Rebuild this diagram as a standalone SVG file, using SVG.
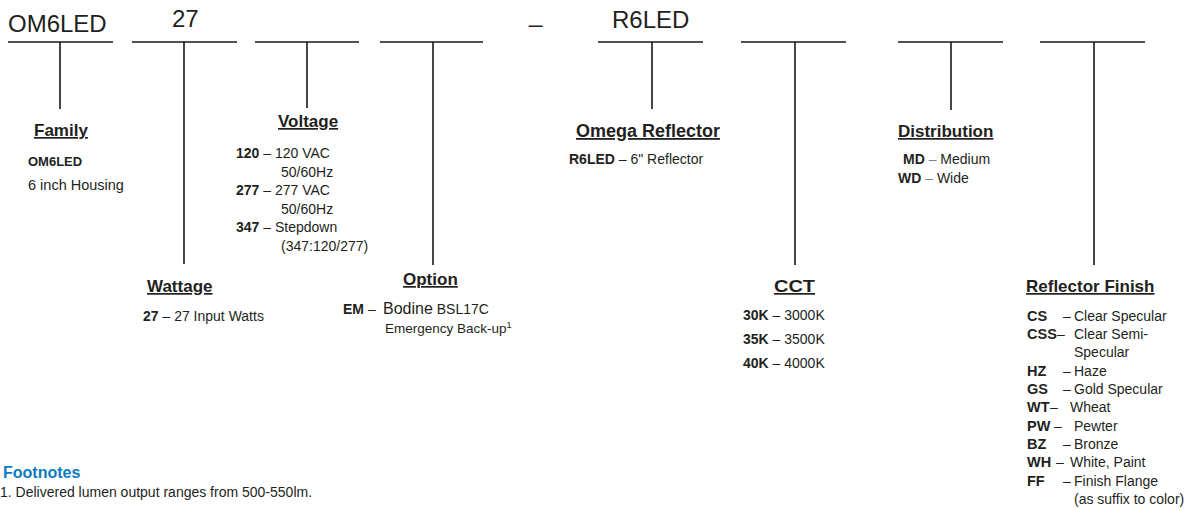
<svg xmlns="http://www.w3.org/2000/svg" width="1194" height="510" viewBox="0 0 1194 510">
<style>
text{font-family:"Liberation Sans",Arial,sans-serif;fill:#231f20;font-size:14px}
.code{font-size:24px}
.h{font-size:17px;font-weight:bold;text-decoration:underline}
.b{font-weight:bold}
.g{fill:#808080}
.ln{stroke:#1a1a1a;stroke-width:1.6;fill:none}
.fn{font-size:16px;font-weight:bold;fill:#0b7bc1}
.rf .b{font-size:14.5px}
</style>
<rect width="1194" height="510" fill="#fff"/>
<g id="connectors" class="ln">
<path d="M8 42H113M60 42V109"/>
<path d="M132 42H237M184 42V264"/>
<path d="M255 42H359M307 42V108"/>
<path d="M380 42H483M433 42V265"/>
<path d="M598 42H703M652 42V109"/>
<path d="M741 42H846M795 42V265"/>
<path d="M898 42H1003M951 42V110"/>
<path d="M1040 42H1145M1094 42V265"/>
</g>
<g id="code-family"><text class="code" x="8" y="32">OM6LED</text></g>
<g id="code-wattage"><text class="code" x="172" y="27">27</text></g>
<g id="code-separator"><text class="code" x="529" y="22">_</text></g>
<g id="code-reflector"><text class="code" x="612" y="28">R6LED</text></g>
<g id="family">
<text class="h" x="34" y="136">Family</text>
<text class="b" x="28" y="166" style="font-size:13px">OM6LED</text>
<text x="28" y="190" style="font-size:14.5px">6 inch Housing</text>
</g>
<g id="voltage">
<text class="h" x="278" y="127">Voltage</text>
<text x="236" y="158"><tspan class="b">120</tspan> – 120 VAC</text>
<text x="281" y="177">50/60Hz</text>
<text x="236" y="195"><tspan class="b">277</tspan> – 277 VAC</text>
<text x="281" y="214">50/60Hz</text>
<text x="236" y="232"><tspan class="b">347</tspan> – Stepdown</text>
<text x="281" y="251">(347:120/277)</text>
</g>
<g id="wattage">
<text class="h" x="147" y="292">Wattage</text>
<text x="143" y="321"><tspan class="b">27</tspan> – 27 Input Watts</text>
</g>
<g id="option">
<text class="h" x="403" y="285">Option</text>
<text x="343" y="314"><tspan class="b">EM</tspan> – <tspan x="383" style="font-size:16px">Bodine</tspan> BSL17C</text>
<text x="385" y="333" style="font-size:13.5px">Emergency Back-up<tspan style="font-size:9px" dy="-5">1</tspan></text>
</g>
<g id="omega-reflector">
<text class="h" x="576" y="137" style="font-size:18px">Omega Reflector</text>
<text x="569" y="164"><tspan class="b">R6LED</tspan> – 6" Reflector</text>
</g>
<g id="cct">
<text class="h" x="774" y="292" textLength="41" lengthAdjust="spacingAndGlyphs">CCT</text>
<text x="743" y="320"><tspan class="b">30K</tspan> – 3000K</text>
<text x="743" y="344"><tspan class="b">35K</tspan> – 3500K</text>
<text x="743" y="368"><tspan class="b">40K</tspan> – 4000K</text>
</g>
<g id="distribution">
<text class="h" x="898" y="137">Distribution</text>
<text x="903" y="164"><tspan class="b">MD</tspan> <tspan class="g">–</tspan> Medium</text>
<text x="898" y="183"><tspan class="b">WD</tspan> <tspan class="g">–</tspan> Wide</text>
</g>
<g id="reflector-finish" class="rf">
<text class="h" x="1026" y="292">Reflector Finish</text>
<text x="1027" y="321"><tspan class="b">CS</tspan><tspan x="1063">–</tspan><tspan x="1074">Clear Specular</tspan></text>
<text x="1027" y="339"><tspan class="b">CSS</tspan><tspan x="1057">–</tspan><tspan x="1074">Clear Semi-</tspan></text>
<text x="1074" y="357">Specular</text>
<text x="1027" y="376"><tspan class="b">HZ</tspan><tspan x="1063">–</tspan><tspan x="1074">Haze</tspan></text>
<text x="1027" y="394"><tspan class="b">GS</tspan><tspan x="1063">–</tspan><tspan x="1074">Gold Specular</tspan></text>
<text x="1027" y="412"><tspan class="b">WT</tspan><tspan x="1050">–</tspan><tspan x="1070">Wheat</tspan></text>
<text x="1027" y="431"><tspan class="b">PW</tspan><tspan x="1054">–</tspan><tspan x="1074">Pewter</tspan></text>
<text x="1027" y="449"><tspan class="b">BZ</tspan><tspan x="1063">–</tspan><tspan x="1074">Bronze</tspan></text>
<text x="1027" y="467"><tspan class="b">WH</tspan><tspan x="1056">–</tspan><tspan x="1070">White, Paint</tspan></text>
<text x="1027" y="486"><tspan class="b">FF</tspan><tspan x="1063">–</tspan><tspan x="1074">Finish Flange</tspan></text>
<text x="1074" y="504">(as suffix to color)</text>
</g>
<g id="footnotes">
<text class="fn" x="3" y="478">Footnotes</text>
<text x="0" y="497">1. Delivered lumen output ranges from 500-550lm.</text>
</g>
</svg>
